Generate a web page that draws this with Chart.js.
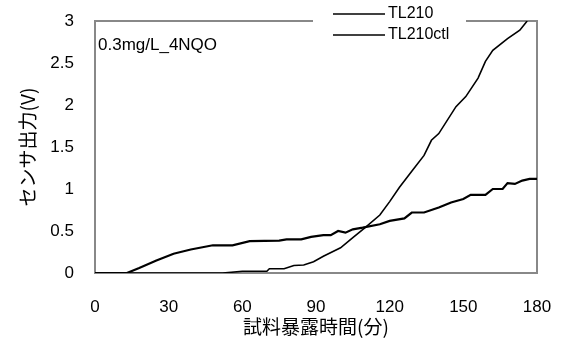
<!DOCTYPE html>
<html>
<head>
<meta charset="utf-8">
<script src="https://cdn.jsdelivr.net/npm/chart.js@4"></script>
<style>
  html, body { margin: 0; padding: 0; background: #fff; }
  #wrap { width: 562px; height: 339px; }
</style>
</head>
<body>
<div id="wrap"><canvas id="chart" width="562" height="339"></canvas></div>
<script>
// sensor output (V) vs. exposure time (min)
const seriesLabels = ["TL210", "TL210ctl"];
const steepTime = [0, 52, 60, 70, 71, 77, 81, 85, 89, 93, 100, 105, 110, 116, 120, 124, 129, 134, 137, 140, 147, 151, 156, 159, 162, 168, 173, 176];
const steepVolt = [0, 0, 0.02, 0.02, 0.05, 0.05, 0.09, 0.095, 0.135, 0.2, 0.30, 0.42, 0.54, 0.69, 0.85, 1.02, 1.21, 1.40, 1.58, 1.66, 1.98, 2.1, 2.32, 2.52, 2.65, 2.79, 2.89, 3.0];
const ctlTime = [0, 13, 18, 25, 32, 39, 48, 56, 63, 75, 78, 84, 88, 93, 96, 99, 102, 105, 109, 116, 120, 126, 129, 134, 140, 145, 150, 153, 159, 162, 166, 168, 171, 174, 177, 180];
const ctlVolt = [0, 0, 0.06, 0.15, 0.23, 0.28, 0.33, 0.33, 0.38, 0.385, 0.40, 0.40, 0.43, 0.45, 0.45, 0.50, 0.48, 0.52, 0.54, 0.58, 0.62, 0.65, 0.72, 0.72, 0.78, 0.84, 0.88, 0.93, 0.93, 1.0, 1.0, 1.07, 1.06, 1.10, 1.12, 1.12];
const xTicks = [0, 30, 60, 90, 120, 150, 180];
const yTicks = [0, 0.5, 1, 1.5, 2, 2.5, 3];
const noteText = "0.3mg/L_4NQO";

const numFont = "'Liberation Sans', Arial, sans-serif";
const jpFont = "'Noto Sans CJK JP', sans-serif";

const toXY = (xs, ys) => xs.map((x, i) => ({ x, y: ys[i] }));
const noPad = s => { s.paddingTop = 0; s.paddingBottom = 0; s.paddingLeft = 0; s.paddingRight = 0; };

// frame (gap left for the legend), legend and note drawn by hand
const decor = {
  id: "decor",
  beforeDatasetsDraw(chart) {
    const { ctx, chartArea: a } = chart;
    const l = Math.round(a.left), t = Math.round(a.top), r = Math.round(a.right), b = Math.round(a.bottom);
    ctx.save();
    ctx.fillStyle = "#888";
    ctx.fillRect(l - 1, t - 1, 314 - l, 2);
    ctx.fillRect(466, t - 1, r - 466 + 1, 2);
    ctx.fillRect(l - 1, t - 1, 2, b - t + 2);
    ctx.fillRect(r - 1, t - 1, 2, b - t + 2);
    ctx.fillRect(l - 1, b - 1, r - l + 2, 2);
    ctx.fillStyle = "#000";
    ctx.font = "17px " + numFont;
    ctx.textBaseline = "middle";
    ctx.textAlign = "left";
    ctx.fillText(noteText, l + 3, 45);
    ctx.restore();
  },
  afterDraw(chart) {
    const { ctx } = chart;
    ctx.save();
    ctx.strokeStyle = "#000";
    ctx.lineWidth = 1.3;
    ctx.fillStyle = "#000";
    ctx.font = "16px " + numFont;
    ctx.textBaseline = "middle";
    ctx.textAlign = "left";
    chart.data.datasets.forEach((ds, i) => {
      const y = 14 + i * 21;
      ctx.beginPath();
      ctx.moveTo(333, y);
      ctx.lineTo(385, y);
      ctx.stroke();
      ctx.fillText(ds.label, 388, y);
    });
    ctx.restore();
  }
};

new Chart(document.getElementById("chart"), {
  type: "line",
  data: {
    datasets: [
      { label: seriesLabels[0], data: toXY(steepTime, steepVolt), borderColor: "#000", borderWidth: 1.6, pointRadius: 0, tension: 0, fill: false },
      { label: seriesLabels[1], data: toXY(ctlTime, ctlVolt), borderColor: "#000", borderWidth: 2.2, pointRadius: 0, tension: 0, fill: false }
    ]
  },
  options: {
    responsive: false,
    animation: false,
    layout: { padding: { top: 21, right: 25, left: 0, bottom: 0 } },
    plugins: { legend: { display: false }, tooltip: { enabled: false } },
    scales: {
      x: {
        type: "linear", min: 0, max: 180,
        afterBuildTicks: s => { s.ticks = xTicks.map(v => ({ value: v })); },
        afterFit: s => { s.height = 66; noPad(s); },
        grid: { display: false, drawTicks: false },
        border: { display: false },
        ticks: { color: "#000", font: { family: numFont, size: 17 }, padding: 24, maxRotation: 0 },
        title: { display: true, text: "試料暴露時間(分)", color: "#000", font: { family: jpFont, size: 19 }, padding: { top: 0, bottom: 1 } }
      },
      y: {
        min: 0, max: 3,
        afterBuildTicks: s => { s.ticks = yTicks.map(v => ({ value: v })); },
        afterFit: s => { s.width = 95; noPad(s); },
        grid: { display: false, drawTicks: false },
        border: { display: false },
        ticks: { color: "#000", font: { family: numFont, size: 17 }, padding: 21, callback: v => String(v) },
        title: { display: true, text: "センサ出力(V)", color: "#000", font: { family: jpFont, size: 19 }, padding: { top: 16, bottom: 0 } }
      }
    }
  },
  plugins: [decor]
});
</script>
</body>
</html>
